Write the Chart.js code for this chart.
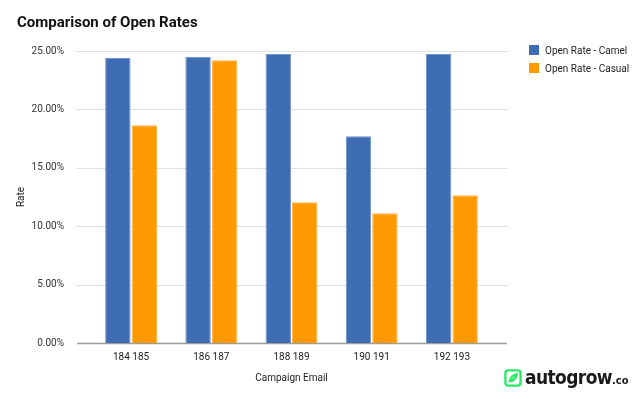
<!DOCTYPE html>
<html lang="en">
<head>
    <meta charset="UTF-8">
    <title>Comparison of Open Rates</title>
    <style>
        body { margin: 0; background: #fff; }
        #wrap { position: relative; width: 644px; height: 399px; font-family: Roboto, sans-serif; }
        #myChart { position: absolute; left: 0; top: 0; width: 644px !important; height: 399px !important; }
        #title { position: absolute; left: 17px; top: 13px; font-size: 15px; font-weight: bold; color: #111; }
        #legend { position: absolute; left: 529px; top: 45px; font-size: 10px; color: #222; }
        #legend div { height: 18px; line-height: 12px; white-space: nowrap; }
        #legend span { display: inline-block; width: 10px; height: 10px; vertical-align: -1px; margin-right: 6px; }
        #logo { position: absolute; left: 504px; top: 366px; white-space: nowrap; color: #1a1a1a; }
        #logo svg { vertical-align: -3px; margin-right: 3px; }
        #logo b { font-family: "DejaVu Sans Condensed", sans-serif; font-size: 19px; letter-spacing: -0.6px; }
        #logo small { font-family: "DejaVu Sans Condensed", sans-serif; font-weight: bold; font-size: 11px; }
    </style>
    <script src="https://cdn.jsdelivr.net/npm/chart.js"></script>
</head>
<body>
<div id="wrap">
    <canvas id="myChart" width="644" height="399"></canvas>
    <div id="title">Comparison of Open Rates</div>
    <div id="legend"></div>
    <div id="logo">
        <svg width="18" height="18" viewBox="0 0 19 19">
            <rect x="1.5" y="1.5" width="16" height="16" rx="3" fill="none" stroke="#2ee86a" stroke-width="2.5"/>
            <path d="M5 14 L14 5 M6 13 C6 8 9 6 14 5 C13 10 11 13 6 13" fill="none" stroke="#2ee86a" stroke-width="1.8"/>
        </svg><b>autogrow</b><small>.co</small>
    </div>
</div>
<script>
    // chart data
    var campaigns = ['184 185', '186 187', '188 189', '190 191', '192 193'];
    var camelRates = [24.4, 24.5, 24.75, 17.7, 24.75];
    var casualRates = [18.65, 24.2, 12.05, 11.1, 12.65];
    var yTicks = [0, 5, 10, 15, 20, 25];

    var seriesNames = ['Open Rate - Camel', 'Open Rate - Casual'];
    var seriesColors = ['#3e6db4', '#ff9900'];
    var seriesBorders = ['#6f93cb', '#ffb547'];

    // legend drawn as html so it can sit apart from the plot
    var legendEl = document.getElementById('legend');
    seriesNames.forEach(function(name, i) {
        var row = document.createElement('div');
        row.innerHTML = '<span style="background:' + seriesColors[i] + '"></span>' + name;
        legendEl.appendChild(row);
    });

    // gridlines run a bit wider than the category band
    var gridPlugin = {
        id: 'wideGrid',
        beforeDatasetsDraw: function(chart) {
            var ctx = chart.ctx, y = chart.scales.y, area = chart.chartArea;
            ctx.save();
            y.ticks.forEach(function(t) {
                var py = Math.round(y.getPixelForValue(t.value)) + 0.5;
                ctx.strokeStyle = t.value === 0 ? '#9e9e9e' : '#e0e0e0';
                ctx.lineWidth = t.value === 0 ? 1.5 : 1;
                ctx.beginPath();
                ctx.moveTo(area.left - 14, py);
                ctx.lineTo(area.right + 15, py);
                ctx.stroke();
            });
            ctx.restore();
        }
    };

    var ctx = document.getElementById('myChart').getContext('2d');
    var myChart = new Chart(ctx, {
        type: 'bar',
        data: {
            labels: campaigns,
            datasets: [camelRates, casualRates].map(function(d, i) {
                return {
                    label: seriesNames[i],
                    data: d,
                    backgroundColor: seriesColors[i],
                    borderColor: seriesBorders[i],
                    borderWidth: { top: 1, left: 1, right: 1, bottom: 0 },
                    barPercentage: 0.96,
                    categoryPercentage: 0.66
                };
            })
        },
        plugins: [gridPlugin],
        options: {
            responsive: false,
            animation: false,
            layout: { padding: { top: 51, right: 152, bottom: 0, left: 0 } },
            scales: {
                y: {
                    min: 0,
                    max: 25,
                    afterBuildTicks: function(scale) {
                        scale.ticks = yTicks.map(function(v) { return { value: v }; });
                    },
                    afterFit: function(scale) { scale.width = 91; },
                    ticks: {
                        padding: 19,
                        color: '#333',
                        font: { family: 'Roboto', size: 10 },
                        callback: function(value) { return value.toFixed(2) + '%'; }
                    },
                    grid: { display: false },
                    border: { display: false },
                    title: {
                        display: true,
                        text: 'Rate',
                        color: '#222',
                        font: { family: 'Roboto', size: 10 },
                        padding: { top: 15, bottom: 0 }
                    }
                },
                x: {
                    afterFit: function(scale) { scale.height = 56; },
                    ticks: {
                        padding: 0,
                        color: '#222',
                        font: { family: 'Roboto', size: 10 }
                    },
                    grid: { display: false },
                    border: { display: false },
                    title: {
                        display: true,
                        text: 'Campaign Email',
                        color: '#222',
                        font: { family: 'Roboto', size: 10 },
                        padding: { top: 3, bottom: 15 }
                    }
                }
            },
            plugins: {
                legend: { display: false },
                tooltip: { enabled: false }
            }
        }
    });
</script>
</body>
</html>
